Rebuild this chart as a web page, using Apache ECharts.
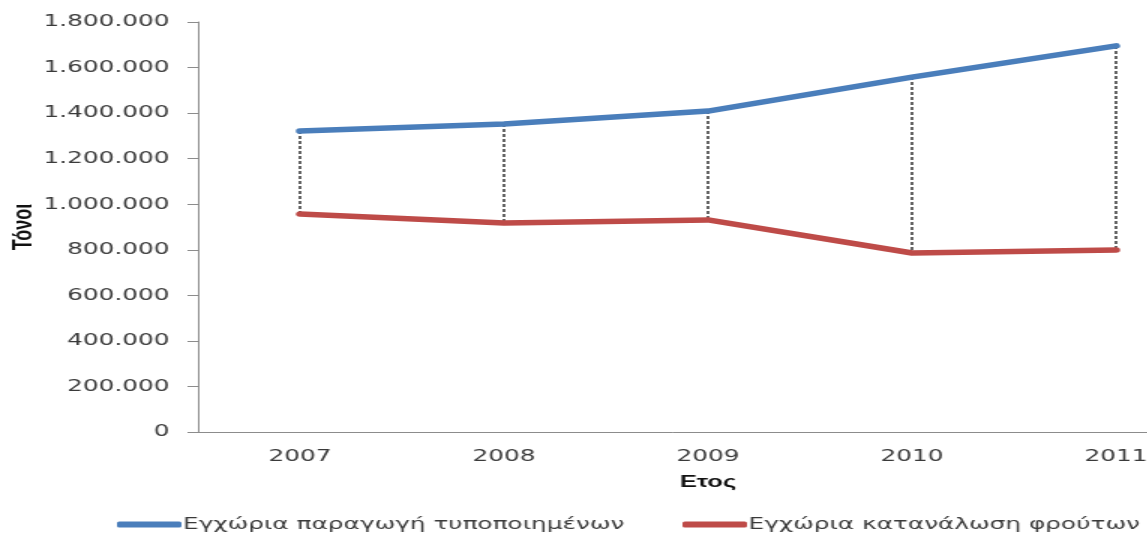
<!DOCTYPE html>
<html>
<head>
<meta charset="utf-8">
<script src="https://cdn.jsdelivr.net/npm/echarts@6/dist/echarts.min.js"></script>
<style>
html,body{margin:0;padding:0;background:#fff;overflow:hidden;width:1147px;height:533px;}
#chart{width:765px;height:533px;transform:scaleX(1.5);transform-origin:0 0;}
</style>
</head>
<body>
<div id="chart"></div>
<script>
// ---- data ----
const years = ['2007', '2008', '2009', '2010', '2011'];
const production = [1321000, 1352000, 1409000, 1558000, 1695000];   // Εγχώρια παραγωγή τυποποιημένων
const consumption = [957000, 918000, 931000, 786000, 799000];        // Εγχώρια κατανάλωση φρούτων
const seriesNames = ['Εγχώρια παραγωγή τυποποιημένων', 'Εγχώρια κατανάλωση φρούτων'];
const yAxisName = 'Τόνοι';
const xAxisName = 'Ετος';

const fmt = v => String(v).replace(/\B(?=(\d{3})+(?!\d))/g, '.');
const FONT = 'DejaVu Sans';
const TXT = '#3a3a3a';

const chart = echarts.init(document.getElementById('chart'), null, {renderer: 'canvas'});
chart.setOption({
  animation: false,
  backgroundColor: '#fff',
  grid: {left: 132, top: 22, width: 680, height: 410, containLabel: false, outerBoundsMode: 'none'},
  xAxis: {
    type: 'category',
    data: years,
    boundaryGap: true,
    axisLine: {lineStyle: {color: '#8c8c8c', width: 1}},
    axisTick: {show: false},
    axisLabel: {fontFamily: FONT, fontSize: 16.5, color: TXT, margin: 16},
    name: xAxisName,
    nameLocation: 'middle',
    nameGap: 42,
    nameMoveOverlap: false,
    nameTextStyle: {fontFamily: 'Liberation Sans', fontWeight: 'bold', fontSize: 17, color: '#111'}
  },
  yAxis: {
    type: 'value',
    min: 0, max: 1800000, interval: 200000,
    axisLine: {show: true, lineStyle: {color: '#8c8c8c', width: 1}},
    axisTick: {show: true, length: 7, lineStyle: {color: '#8c8c8c'}},
    splitLine: {show: false},
    axisLabel: {fontFamily: FONT, fontSize: 16.5, color: TXT, margin: 19, formatter: fmt},
    name: yAxisName,
    nameLocation: 'middle',
    nameRotate: 90,
    nameGap: 107,
    nameMoveOverlap: false,
    nameTextStyle: {fontFamily: 'Liberation Sans', fontWeight: 'bold', fontSize: 18, color: '#111'}
  },
  legend: [
    {data: [{name: seriesNames[0], icon: 'roundRect'}], left: 73, top: 511, itemWidth: 43, itemHeight: 6,
     textStyle: {fontFamily: FONT, fontSize: 16.5, color: TXT, padding: [0, 0, 0, -4]}},
    {data: [{name: seriesNames[1], icon: 'roundRect'}], left: 450, top: 511, itemWidth: 43, itemHeight: 6,
     textStyle: {fontFamily: FONT, fontSize: 16.5, color: TXT, padding: [0, 0, 0, -4]}}
  ],
  series: [
    {
      type: 'custom',
      name: 'dropLines',
      z: 1,
      data: years.map((y, i) => [i, production[i], consumption[i]]),
      renderItem: function (params, api) {
        const x = api.value(0);
        const p1 = api.coord([x, api.value(1)]);
        const p2 = api.coord([x, api.value(2)]);
        return {type: 'line', shape: {x1: p1[0], y1: p1[1], x2: p2[0], y2: p2[1]},
                style: {stroke: '#000', lineWidth: 1.2, lineDash: [3, 2]}};
      }
    },
    {
      type: 'line', name: seriesNames[0], data: production, z: 3,
      showSymbol: false, symbol: 'none',
      itemStyle: {color: '#4a7ebb'},
      lineStyle: {color: '#4a7ebb', width: 5.5, cap: 'round', join: 'round'}
    },
    {
      type: 'line', name: seriesNames[1], data: consumption, z: 3,
      showSymbol: false, symbol: 'none',
      itemStyle: {color: '#be4b48'},
      lineStyle: {color: '#be4b48', width: 5.5, cap: 'round', join: 'round'}
    }
  ]
});
</script>
</body>
</html>
